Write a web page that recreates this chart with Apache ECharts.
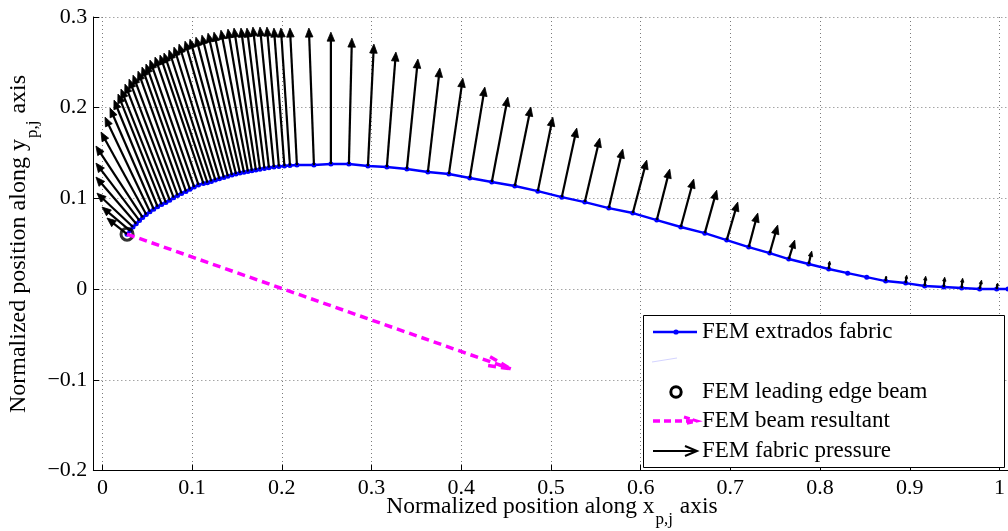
<!DOCTYPE html>
<html>
<head>
<meta charset="utf-8">
<title>Extrados fabric pressure</title>
<script src="https://cdn.jsdelivr.net/npm/echarts@6/dist/echarts.min.js"></script>
<style>
  html, body { margin: 0; padding: 0; background: #ffffff; }
  #chart { width: 1008px; height: 531px; }
</style>
</head>
<body>
<div id="chart"></div>
<script>
// Extrados fabric nodes, normalized chord coordinates (leading edge -> trailing edge)
const nodeX = [
  0.0272, 0.0305, 0.0338, 0.0374, 0.0410, 0.0445, 0.0485, 0.0525, 0.0567, 0.0610,
  0.0655, 0.0701, 0.0744, 0.0787, 0.0831, 0.0875, 0.0923, 0.0968, 0.1014, 0.1061,
  0.1116, 0.1160, 0.1204, 0.1248, 0.1293, 0.1342, 0.1386, 0.1431, 0.1475, 0.1519,
  0.1563, 0.1607, 0.1651, 0.1695, 0.1740, 0.1789, 0.1839, 0.1894, 0.1949, 0.2010,
  0.2071, 0.2148,
  0.2336, 0.2523, 0.2722, 0.2932, 0.3141, 0.3362, 0.3594, 0.3826, 0.4057, 0.4300,
  0.4554, 0.4808, 0.5073, 0.5327, 0.5592, 0.5857, 0.6122, 0.6387, 0.6652, 0.6894,
  0.7137, 0.7369, 0.7579, 0.7799, 0.8020, 0.8230, 0.8440, 0.8649, 0.8870, 0.9080,
  0.9290, 0.9488, 0.9687, 0.9875, 1.0000
];
const nodeY = [
  0.0606, 0.0645, 0.0684, 0.0720, 0.0755, 0.0790, 0.0822, 0.0852, 0.0881, 0.0908,
  0.0934, 0.0954, 0.0980, 0.1008, 0.1033, 0.1055, 0.1077, 0.1100, 0.1125, 0.1149,
  0.1164, 0.1173, 0.1187, 0.1202, 0.1216, 0.1231, 0.1245, 0.1257, 0.1268, 0.1279,
  0.1288, 0.1297, 0.1305, 0.1313, 0.1322, 0.1331, 0.1338, 0.1345, 0.1352, 0.1356,
  0.1362, 0.1367,
  0.1367, 0.1378, 0.1378, 0.1356, 0.1345, 0.1323, 0.1290, 0.1268, 0.1224, 0.1180,
  0.1136, 0.1080, 0.1014, 0.0959, 0.0893, 0.0838, 0.0761, 0.0684, 0.0617, 0.0540,
  0.0463, 0.0397, 0.0331, 0.0276, 0.0221, 0.0176, 0.0132, 0.0088, 0.0066, 0.0033,
  0.0022, 0.0011, 0.0000, 0.0000, 0.0000
];

// Fabric pressure vectors: arrow tip reached from each node
const tipX = [
  0.0051, -0.0004, -0.0060, -0.0071, -0.0071, -0.0071, -0.0015, 0.0029, 0.0084, 0.0128,
  0.0172, 0.0205, 0.0249, 0.0294, 0.0338, 0.0393, 0.0437, 0.0481, 0.0525, 0.0581,
  0.0636, 0.0680, 0.0735, 0.0790, 0.0846, 0.0912, 0.0967, 0.1033, 0.1099, 0.1166,
  0.1232, 0.1309, 0.1386, 0.1453, 0.1530, 0.1596, 0.1662, 0.1740, 0.1817, 0.1894,
  0.1971, 0.2071,
  0.2280, 0.2523, 0.2755, 0.2998, 0.3241, 0.3484, 0.3726, 0.3980, 0.4223, 0.4477,
  0.4731, 0.4974, 0.5238, 0.5492, 0.5746, 0.6011, 0.6265, 0.6530, 0.6784, 0.7016,
  0.7237, 0.7457, 0.7645, 0.7833, 0.8031, 0.8230, 0.8440, 0.8655, 0.8881, 0.9091,
  0.9301, 0.9499, 0.9708, 0.9886, 1.0000
];
const tipY = [
  0.0783, 0.0904, 0.1058, 0.1235, 0.1389, 0.1577, 0.1731, 0.1896, 0.1996, 0.2084,
  0.2150, 0.2205, 0.2260, 0.2315, 0.2359, 0.2403, 0.2448, 0.2481, 0.2525, 0.2558,
  0.2580, 0.2602, 0.2635, 0.2668, 0.2701, 0.2734, 0.2756, 0.2778, 0.2800, 0.2822,
  0.2833, 0.2855, 0.2867, 0.2878, 0.2878, 0.2878, 0.2889, 0.2889, 0.2889, 0.2878,
  0.2878, 0.2878,
  0.2878, 0.2833, 0.2767, 0.2701, 0.2613, 0.2536, 0.2437, 0.2326, 0.2227, 0.2117,
  0.2007, 0.1896, 0.1775, 0.1665, 0.1544, 0.1422, 0.1323, 0.1213, 0.1091, 0.0959,
  0.0838, 0.0706, 0.0540, 0.0419, 0.0309, 0.0176, 0.0132, 0.0143, 0.0154, 0.0143,
  0.0132, 0.0121, 0.0099, 0.0066, 0.0000
];

// Leading edge beam position and the tip of its resultant force
const beamNode = [0.0272, 0.0606];
const beamTip = [0.451, -0.088];

// Tick values of both axes
const xTicks = [0, 0.1, 0.2, 0.3, 0.4, 0.5, 0.6, 0.7, 0.8, 0.9, 1];
const yTicks = [-0.2, -0.1, 0, 0.1, 0.2, 0.3];
const xLeftPad = -0.01;   // axes box starts slightly left of x = 0

const FONT = '"Liberation Serif", "Times New Roman", serif';

// ---- layout of the axes box (pixels) ----
const X_ZERO = 102.4;
const X_SCALE = 906;
const TOP = 17;
const HEIGHT = 453.5;

const fabric = nodeX.map((x, i) => [x, nodeY[i]]);
const pressure = nodeX.map((x, i) => [x, nodeY[i], tipX[i], tipY[i]]);

const tickText = v => {
  const s = String(+(+v).toFixed(1));
  return s.replace('-', '\u2212');
};

// black pressure arrow: shaft plus filled head
function pressureArrow(params, api) {
  const a = api.coord([api.value(0), api.value(1)]);
  const b = api.coord([api.value(2), api.value(3)]);
  const dx = b[0] - a[0], dy = b[1] - a[1];
  const len = Math.hypot(dx, dy);
  if (len < 1) return null;
  const ux = dx / len, uy = dy / len;
  const hl = Math.min(9, len * 0.4);
  const hw = hl * 0.42;
  const bx = b[0] - ux * hl, by = b[1] - uy * hl;
  return {
    type: 'group',
    children: [
      { type: 'line', shape: { x1: a[0], y1: a[1], x2: bx + ux * 1.5, y2: by + uy * 1.5 },
        style: { stroke: '#000', lineWidth: 2.2 } },
      { type: 'polygon',
        shape: { points: [[b[0], b[1]], [bx - uy * hw, by + ux * hw], [bx + uy * hw, by - ux * hw]] },
        style: { fill: '#000', stroke: '#000', lineWidth: 0.8 } }
    ]
  };
}

// magenta dashed resultant with an open dashed head
function resultantArrow(params, api) {
  const a = api.coord([api.value(0), api.value(1)]);
  const b = api.coord([api.value(2), api.value(3)]);
  const ang = Math.atan2(b[1] - a[1], b[0] - a[0]);
  const hl = 24, spread = 0.19;
  const arm = s => [b[0] - hl * Math.cos(ang + s), b[1] - hl * Math.sin(ang + s)];
  const st = { stroke: '#ff00ff', lineWidth: 3.5, lineDash: [8, 5], fill: null };
  return {
    type: 'group',
    children: [
      { type: 'line', shape: { x1: a[0], y1: a[1], x2: b[0], y2: b[1] }, style: st },
      { type: 'polyline', shape: { points: [arm(spread), b, arm(-spread)] }, style: st }
    ]
  };
}

const dotted = { type: [1, 3], color: '#7a7a7a', width: 1 };

// legend drawn as a boxed list of samples
const LX = 643.5, LY = 315.5, LW = 361, LH = 152;
const legendTextX = 702;
const rowY = [332, 360, 392, 421, 451];
const legendText = (t, y) => ({
  type: 'text', x: legendTextX, y: y, z: 102,
  style: { text: t, font: '23px ' + FONT, fill: '#000', verticalAlign: 'middle' }
});

const legend = [
  { type: 'rect', z: 100, shape: { x: LX, y: LY, width: LW, height: LH },
    style: { fill: '#fff', stroke: '#000', lineWidth: 1 } },
  { type: 'line', z: 101, shape: { x1: 653, y1: rowY[0], x2: 697, y2: rowY[0] },
    style: { stroke: '#0000ff', lineWidth: 2.5 } },
  { type: 'circle', z: 101, shape: { cx: 676, cy: rowY[0], r: 2.6 }, style: { fill: '#0000ff' } },
  legendText('FEM extrados fabric', rowY[0]),
  { type: 'line', z: 101, shape: { x1: 652, y1: 362, x2: 677, y2: 358 },
    style: { stroke: '#d4d4ff', lineWidth: 1 } },
  { type: 'circle', z: 101, shape: { cx: 676, cy: rowY[2], r: 5.2 },
    style: { fill: null, stroke: '#000', lineWidth: 3 } },
  legendText('FEM leading edge beam', rowY[2]),
  { type: 'line', z: 101, shape: { x1: 653, y1: rowY[3], x2: 695, y2: rowY[3] },
    style: { stroke: '#ff00ff', lineWidth: 3.5, lineDash: [7, 4] } },
  { type: 'polyline', z: 101, shape: { points: [[684, rowY[3] - 4], [697, rowY[3]], [684, rowY[3] + 3]] },
    style: { stroke: '#ff00ff', lineWidth: 3, fill: null, lineDash: [6, 3] } },
  legendText('FEM beam resultant', rowY[3]),
  { type: 'line', z: 101, shape: { x1: 653, y1: rowY[4], x2: 697, y2: rowY[4] },
    style: { stroke: '#000', lineWidth: 2 } },
  { type: 'polyline', z: 101, shape: { points: [[685, rowY[4] - 5], [697, rowY[4]], [685, rowY[4] + 5]] },
    style: { stroke: '#000', lineWidth: 2, fill: null } },
  legendText('FEM fabric pressure', rowY[4])
];

// axis titles with the p,j subscript
const titles = [
  { type: 'text', x: 552, y: 507, z: 50,
    style: {
      text: '{m|Normalized position along x}{s|p,j}{m| axis}',
      align: 'center', verticalAlign: 'middle',
      rich: {
        m: { fontSize: 23.5, fontFamily: FONT, fill: '#000' },
        s: { fontSize: 17, fontFamily: FONT, fill: '#000', padding: [26, 1, 0, 1] }
      }
    } },
  { type: 'text', x: 19, y: 244, rotation: Math.PI / 2, z: 50,
    style: {
      text: '{m|Normalized position along y}{s|p,j}{m| axis}',
      align: 'center', verticalAlign: 'middle',
      rich: {
        m: { fontSize: 24, fontFamily: FONT, fill: '#000' },
        s: { fontSize: 17, fontFamily: FONT, fill: '#000', padding: [28, 1, 0, 1] }
      }
    } }
];

const chart = echarts.init(document.getElementById('chart'), null, { renderer: 'canvas' });

chart.setOption({
  animation: false,
  backgroundColor: '#ffffff',
  grid: [
    { left: X_ZERO + xLeftPad * X_SCALE, top: TOP, width: (xTicks[xTicks.length - 1] - xLeftPad) * X_SCALE, height: HEIGHT },
    { left: X_ZERO, top: TOP, width: X_SCALE, height: HEIGHT }
  ],
  xAxis: [
    { gridIndex: 0, type: 'value', min: xLeftPad, max: xTicks[xTicks.length - 1],
      axisLine: { show: true, onZero: false, lineStyle: { color: '#000', width: 1 } },
      axisTick: { show: false }, axisLabel: { show: false }, splitLine: { show: false } },
    { gridIndex: 1, type: 'value', min: xTicks[0], max: xTicks[xTicks.length - 1],
      interval: xTicks[1] - xTicks[0],
      axisLine: { show: false, onZero: false },
      axisTick: { show: true, inside: true, length: 6, lineStyle: { color: '#000', width: 1 } },
      axisLabel: { show: true, margin: 7, fontSize: 22, fontFamily: FONT, color: '#000',
                   formatter: tickText, showMinLabel: true, showMaxLabel: true },
      splitLine: { show: true, lineStyle: dotted } }
  ],
  yAxis: [
    { gridIndex: 0, type: 'value', min: yTicks[0], max: yTicks[yTicks.length - 1],
      interval: yTicks[1] - yTicks[0],
      axisLine: { show: true, onZero: false, lineStyle: { color: '#000', width: 1 } },
      axisTick: { show: true, inside: true, length: 6, lineStyle: { color: '#000', width: 1 } },
      axisLabel: { show: true, margin: 6, fontSize: 22, fontFamily: FONT, color: '#000',
                   formatter: tickText, showMinLabel: true, showMaxLabel: true },
      splitLine: { show: true, lineStyle: dotted } },
    { gridIndex: 1, type: 'value', min: yTicks[0], max: yTicks[yTicks.length - 1], show: false }
  ],
  series: [
    { type: 'line', name: 'FEM extrados fabric', xAxisIndex: 0, yAxisIndex: 0,
      data: fabric, symbol: 'circle', symbolSize: 5, showAllSymbol: true,
      lineStyle: { color: '#0000ff', width: 2.5 }, itemStyle: { color: '#0000ff' },
      z: 2, silent: true },
    { type: 'custom', name: 'FEM fabric pressure', xAxisIndex: 0, yAxisIndex: 0,
      data: pressure, encode: { x: [0, 2], y: [1, 3] }, renderItem: pressureArrow,
      z: 3, silent: true },
    { type: 'scatter', name: 'FEM leading edge beam', xAxisIndex: 0, yAxisIndex: 0,
      data: [beamNode], symbol: 'circle', symbolSize: 12,
      itemStyle: { color: 'rgba(0,0,0,0)', borderColor: '#000', borderWidth: 3 },
      z: 4, silent: true },
    { type: 'custom', name: 'FEM beam resultant', xAxisIndex: 0, yAxisIndex: 0,
      data: [[beamNode[0], beamNode[1], beamTip[0], beamTip[1]]],
      encode: { x: [0, 2], y: [1, 3] }, renderItem: resultantArrow,
      z: 5, silent: true }
  ],
  graphic: titles.concat(legend)
});
</script>
</body>
</html>
